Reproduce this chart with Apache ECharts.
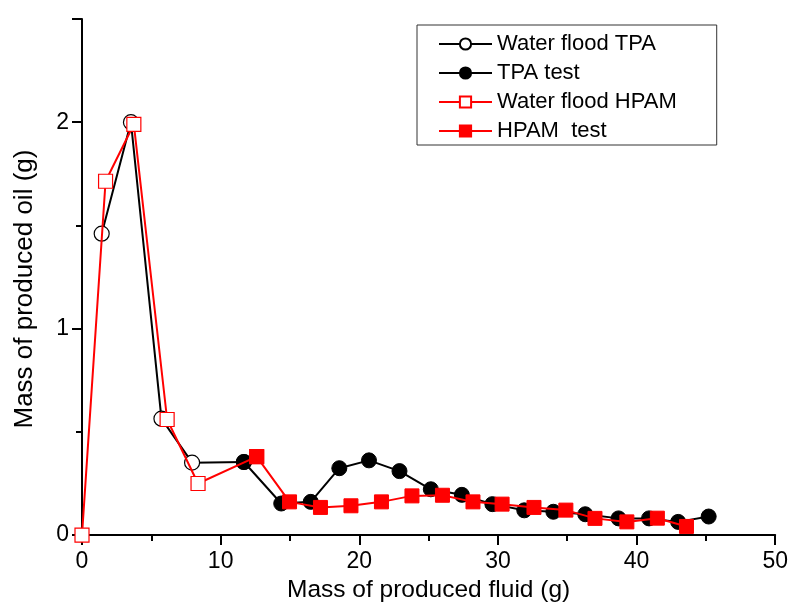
<!DOCTYPE html>
<html><head><meta charset="utf-8">
<script src="https://cdn.jsdelivr.net/npm/echarts@6/dist/echarts.min.js"></script>
<style>html,body{margin:0;padding:0;background:#fff}#c{width:791px;height:608px}</style>
</head><body><div id="c"></div>
<script>
const waterTPA_x = [1.42, 3.53, 5.73, 7.94, 11.68];
const waterTPA_y = [1.46, 2.00, 0.564, 0.351, 0.354];
const testTPA_x = [11.68, 14.37, 16.5, 18.56, 20.7, 22.9, 25.16, 27.4, 29.6, 31.9, 34.0, 36.3, 38.7, 40.9, 43.0, 45.2];
const testTPA_y = [0.354, 0.153, 0.161, 0.324, 0.362, 0.31, 0.222, 0.195, 0.15, 0.12, 0.113, 0.101, 0.081, 0.081, 0.064, 0.09];
const waterHPAM_x = [0, 1.70, 3.74, 6.14, 8.37, 12.6];
const waterHPAM_y = [0, 1.714, 1.99, 0.56, 0.25, 0.38];
const testHPAM_x = [12.6, 14.97, 17.2, 19.4, 21.6, 23.8, 26.0, 28.2, 30.3, 32.6, 34.9, 37.0, 39.3, 41.5, 43.6];
const testHPAM_y = [0.38, 0.161, 0.134, 0.142, 0.161, 0.19, 0.193, 0.161, 0.15, 0.134, 0.121, 0.081, 0.064, 0.082, 0.042];
const seriesNames = ['Water flood TPA', 'TPA test', 'Water flood HPAM', 'HPAM  test'];
const xTicks = [0, 10, 20, 30, 40, 50];
const yTicks = [0, 1, 2];

const zip = (xs, ys) => xs.map((x, i) => [x, ys[i]]);
const FONT = 'Arial, "Liberation Sans", sans-serif';
const chart = echarts.init(document.getElementById('c'), null, {renderer: 'canvas'});
chart.setOption({
  animation: false,
  backgroundColor: '#fff',
  grid: {left: 82, right: 14, top: 19, bottom: 72, containLabel: false},
  legend: {
    orient: 'vertical', left: 417, top: 25,
    padding: [8, 40, 3, 21],
    borderColor: '#333', borderWidth: 1,
    itemWidth: 53, itemHeight: 14, itemGap: 7,
    textStyle: {fontSize: 22, lineHeight: 22, fontFamily: FONT, color: '#000'},
    data: seriesNames
  },
  xAxis: {
    type: 'value', min: 0, max: 50, interval: 10,
    name: 'Mass of produced fluid (g)', nameLocation: 'middle', nameGap: 42,
    nameTextStyle: {fontSize: 24.5, fontFamily: FONT, color: '#000'},
    axisLine: {show: true, onZero: false, lineStyle: {color: '#000', width: 2}},
    axisTick: {show: true, inside: false, length: 10, lineStyle: {color: '#000', width: 2}},
    minorTick: {show: true, splitNumber: 2, length: 6, lineStyle: {color: '#000', width: 2}},
    axisLabel: {fontSize: 23, fontFamily: FONT, color: '#000', margin: 15,
      formatter: v => xTicks.includes(v) ? String(v) : ''},
    splitLine: {show: false}
  },
  yAxis: {
    type: 'value', min: 0, max: 2.5, interval: 1,
    name: 'Mass of produced oil (g)', nameLocation: 'middle', nameGap: 44,
    nameTextStyle: {fontSize: 26, fontFamily: FONT, color: '#000', padding: [0, 24, 0, 0]},
    axisLine: {show: true, onZero: false, lineStyle: {color: '#000', width: 2}},
    axisTick: {show: true, inside: false, length: 10, lineStyle: {color: '#000', width: 2}},
    minorTick: {show: true, splitNumber: 2, length: 6, lineStyle: {color: '#000', width: 2}},
    axisLabel: {fontSize: 23, fontFamily: FONT, color: '#000', margin: 13, showMaxLabel: false,
      formatter: v => yTicks.includes(v) ? String(v) : ''},
    splitLine: {show: false}
  },
  series: [
    {name: seriesNames[0], type: 'line', data: zip(waterTPA_x, waterTPA_y),
     symbol: 'circle', symbolSize: 15, showAllSymbol: true,
     lineStyle: {color: '#000', width: 2},
     itemStyle: {color: '#fff', borderColor: '#000', borderWidth: 1.2}, z: 2},
    {name: seriesNames[1], type: 'line', data: zip(testTPA_x, testTPA_y),
     symbol: 'circle', symbolSize: 15, showAllSymbol: true,
     lineStyle: {color: '#000', width: 2},
     itemStyle: {color: '#000', borderColor: '#000', borderWidth: 1}, z: 3},
    {name: seriesNames[2], type: 'line', data: zip(waterHPAM_x, waterHPAM_y),
     symbol: 'rect', symbolSize: 14, showAllSymbol: true,
     lineStyle: {color: '#ff0000', width: 2},
     itemStyle: {color: '#fff', borderColor: '#ff0000', borderWidth: 1.2}, z: 4},
    {name: seriesNames[3], type: 'line', data: zip(testHPAM_x, testHPAM_y),
     symbol: 'rect', symbolSize: 14, showAllSymbol: true,
     lineStyle: {color: '#ff0000', width: 2},
     itemStyle: {color: '#ff0000', borderColor: '#ff0000', borderWidth: 1}, z: 5}
  ]
});
</script></body></html>
